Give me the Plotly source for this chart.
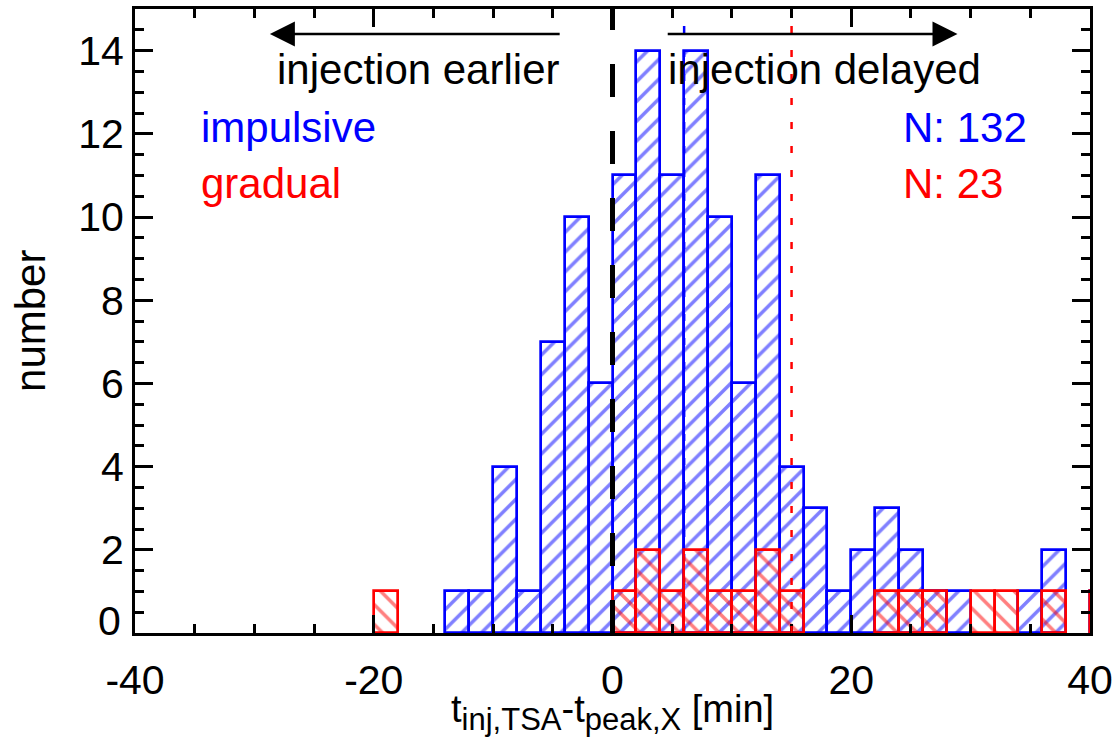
import plotly.graph_objects as go

# bin centres (bin width 2 min)
bin_centers = [-19, -17, -15, -13, -11, -9, -7, -5, -3, -1,
               1, 3, 5, 7, 9, 11, 13, 15, 17, 19,
               21, 23, 25, 27, 29, 31, 33, 35, 37, 41]
impulsive_counts = [0, 0, 0, 1, 1, 4, 1, 7, 10, 6,
                    11, 14, 11, 14, 10, 6, 11, 4, 3, 1,
                    2, 3, 2, 1, 1, 0, 0, 1, 2, 1]
gradual_counts = [1, 0, 0, 0, 0, 0, 0, 0, 0, 0,
                  1, 2, 1, 2, 1, 1, 2, 1, 0, 0,
                  0, 1, 1, 1, 0, 1, 1, 0, 1, 1]

x_tick_vals = [-40, -20, 0, 20, 40]
y_tick_vals = [0, 2, 4, 6, 8, 10, 12, 14]

median_impulsive = 6
median_gradual = 15
n_impulsive = 132
n_gradual = 23

FONT = "Liberation Sans, Arial, Helvetica, sans-serif"
BLUE = "#0000ff"
RED = "#ff0000"

def nz(vals):
    return [v if v > 0 else None for v in vals]

fig = go.Figure()
fig.add_trace(go.Bar(
    x=bin_centers, y=nz(impulsive_counts), width=2,
    marker=dict(color="rgba(0,0,0,0)", line=dict(color=BLUE, width=2.7),
                pattern=dict(shape="/", fgcolor=BLUE, bgcolor="rgba(0,0,0,0)",
                             size=14, solidity=0.25)),
    showlegend=False, hoverinfo="skip"))
fig.add_trace(go.Bar(
    x=bin_centers, y=nz(gradual_counts), width=2,
    marker=dict(color="rgba(0,0,0,0)", line=dict(color=RED, width=2.7),
                pattern=dict(shape="\\", fgcolor=RED, bgcolor="rgba(0,0,0,0)",
                             size=14, solidity=0.25)),
    showlegend=False, hoverinfo="skip"))

shapes = [
    dict(type="line", xref="x", yref="y", x0=median_impulsive, x1=median_impulsive, y0=0, y1=15,
         line=dict(color=BLUE, width=2.5, dash="7px,17px"), layer="below"),
    dict(type="line", xref="x", yref="y", x0=median_gradual, x1=median_gradual, y0=0, y1=15,
         line=dict(color=RED, width=2.5, dash="7px,17px")),
    dict(type="line", xref="x", yref="y", x0=0, x1=0, y0=0, y1=15,
         line=dict(color="black", width=5, dash="33px,34px")),
]

sub = lambda s: f"<sub><span style='font-size:31px'>{s}</span></sub>"

annotations = [
    dict(x=-28.7, y=14.4, ax=-4.3, ay=14.4, xref="x", yref="y", axref="x", ayref="y",
         text="", showarrow=True, arrowhead=2, arrowsize=2, arrowwidth=2.5, arrowcolor="black"),
    dict(x=28.9, y=14.4, ax=4.5, ay=14.4, xref="x", yref="y", axref="x", ayref="y",
         text="", showarrow=True, arrowhead=2, arrowsize=2, arrowwidth=2.5, arrowcolor="black"),
    dict(x=-4.3, y=13.55, xref="x", yref="y", text="injection earlier", showarrow=False,
         xanchor="right", yanchor="middle", font=dict(family=FONT, size=42, color="black")),
    dict(x=4.5, y=13.55, xref="x", yref="y", text="injection delayed", showarrow=False,
         xanchor="left", yanchor="middle", font=dict(family=FONT, size=42, color="black")),
    dict(x=-34.6, y=12.15, xref="x", yref="y", text="impulsive", showarrow=False,
         xanchor="left", yanchor="middle", font=dict(family=FONT, size=42, color=BLUE)),
    dict(x=-34.6, y=10.8, xref="x", yref="y", text="gradual", showarrow=False,
         xanchor="left", yanchor="middle", font=dict(family=FONT, size=42, color=RED)),
    dict(x=24.2, y=12.15, xref="x", yref="y", text=f"N: {n_impulsive}", showarrow=False,
         xanchor="left", yanchor="middle", font=dict(family=FONT, size=42, color=BLUE)),
    dict(x=24.2, y=10.8, xref="x", yref="y", text=f"N: {n_gradual}", showarrow=False,
         xanchor="left", yanchor="middle", font=dict(family=FONT, size=42, color=RED)),
    dict(x=0.5, y=-0.128, xref="paper", yref="paper",
         text="t" + sub("inj,TSA") + "-t" + sub("peak,X") + " [min]", showarrow=False,
         xanchor="center", yanchor="middle", font=dict(family=FONT, size=38, color="black")),
    dict(x=-0.11, y=0.5, xref="paper", yref="paper", text="number", textangle=-90,
         showarrow=False, xanchor="center", yanchor="middle",
         font=dict(family=FONT, size=42, color="black")),
    # raised "0" label of the y axis
    dict(x=-0.0125, y=0.3, xref="paper", yref="y", text=str(y_tick_vals[0]), showarrow=False,
         xanchor="right", yanchor="middle", font=dict(family=FONT, size=41, color="black")),
]

fig.update_layout(
    width=1119, height=749,
    margin=dict(l=135, r=26, t=6, b=116),
    paper_bgcolor="white", plot_bgcolor="white",
    barmode="overlay", bargap=0,
    shapes=shapes, annotations=annotations,
    font=dict(family=FONT, size=41, color="black"),
    xaxis=dict(range=[-40, 40], tickvals=x_tick_vals, ticktext=[str(v) for v in x_tick_vals],
               ticks="inside", ticklen=18, tickwidth=2.5, tickcolor="black",
               showline=True, linewidth=3, linecolor="black", mirror="ticks",
               showgrid=False, zeroline=False, ticklabelstandoff=9,
               minor=dict(dtick=5, ticks="inside", ticklen=9, tickwidth=2.5, tickcolor="black", showgrid=False),
               tickfont=dict(family=FONT, size=41, color="black")),
    yaxis=dict(range=[0, 15], tickvals=y_tick_vals,
               ticktext=[""] + [str(v) for v in y_tick_vals[1:]],
               ticks="inside", ticklen=18, tickwidth=2.5, tickcolor="black",
               showline=True, linewidth=3, linecolor="black", mirror="ticks",
               showgrid=False, zeroline=False,
               minor=dict(dtick=0.5, ticks="inside", ticklen=9, tickwidth=2.5, tickcolor="black", showgrid=False),
               tickfont=dict(family=FONT, size=41, color="black")),
)

fig.write_html("out.html")
